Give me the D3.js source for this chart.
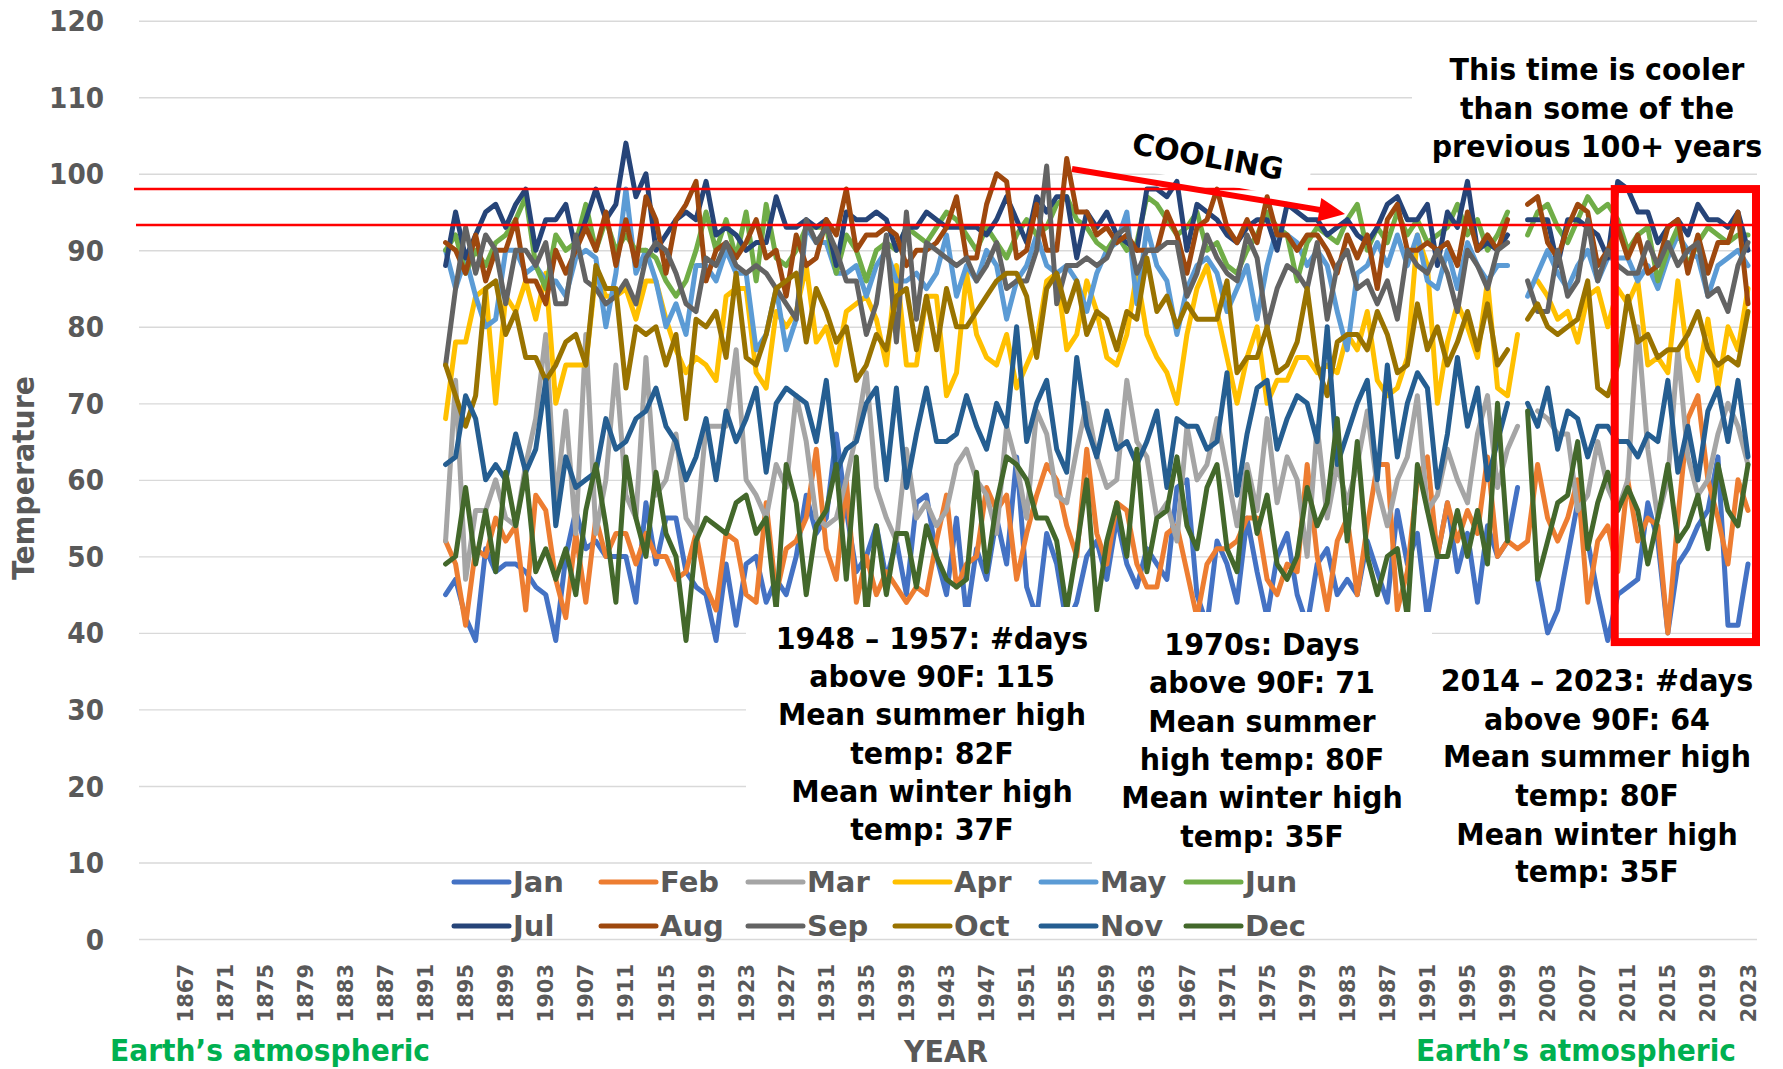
<!DOCTYPE html>
<html>
<head>
<meta charset="utf-8">
<script src="https://cdn.jsdelivr.net/npm/d3@7"></script>
<style>
  body { margin: 0; background: #fff; }
  svg { display: block; }
  text { font-family: "DejaVu Sans", Verdana, sans-serif; font-weight: bold; }
</style>
</head>
<body>
<svg id="chart" width="1783" height="1069"></svg>
<script>
// categories on the axis, and the years that carry data
const years = d3.range(1863, 2024);
const dataYears = d3.range(1893, 2024);
const yTicks = d3.range(0, 121, 10);
const yearLabels = years.filter(y => y >= 1867 && (y - 1867) % 4 === 0);

// monthly highs, 1893 .. 2023 (10 per row)
const jan = [45,47,42,39,51,48,49,49,48,46, 45,39,50,56,51,52,50,50,50,44, 57,49,55,55,48,46,45,39,49,41,
  49,50,44,47,45,50,58,53,55,66, 56,48,50,54,47,52,45,57,58,50, 45,55,42,51,47,55,49,63,46,42,
  53,49,41,44,50,52,47,55,49,46, 51,49,47,59,60,45,41,52,49,44, 55,48,42,50,53,45,41,49,51,45,
  47,45,52,48,44,56,49,53,42,50, 57,48,53,44,54,50,52,59,null,47, 40,43,50,57,52,45,39,45,46,47,
  57,52,40,49,51,54,56,63,41,41, 49];
const feb = [52,49,41,51,50,55,52,54,43,58, 56,47,42,53,44,55,50,53,53,49, 53,50,50,47,48,53,46,43,53,52,
  45,44,57,45,51,52,55,64,51,47, 60,44,50,45,48,46,44,46,45,52, 58,46,49,50,59,56,58,47,53,58,
  62,60,54,50,64,53,49,57,56,49, 46,46,53,54,48,42,49,51,51,52, 55,55,47,45,49,48,62,50,43,52,
  55,45,54,62,62,43,48,60,63,50, 57,52,56,53,63,50,52,51,52,62, 55,52,55,60,44,52,54,48,60,52,
  55,54,40,55,68,71,60,55,49,60, 56];
const mar = [52,73,47,56,56,60,55,54,62,68, 79,57,69,53,79,53,60,75,58,55, 76,58,60,66,55,53,67,67,67,77,
  60,58,55,62,59,71,65,55,54,55, 60,66,74,59,55,52,64,55,57,54, 56,62,64,60,58,53,67,62,55,69,
  66,58,57,64,70,63,59,60,73,65, 63,55,57,52,67,60,62,68,61,54, 62,56,68,57,63,60,50,67,55,62,
  57,62,69,59,54,60,63,71,56,58, 64,60,57,66,71,59,64,67,null,69, 68,66,66,56,58,65,59,56,60,80,
  64,55,60,77,63,58,60,66,70,67, 62];
const apr = [68,78,78,84,85,70,84,82,86,81, 87,70,75,75,75,87,84,84,85,81, 86,86,81,77,74,76,75,73,84,85,
  85,74,72,82,80,82,88,78,80,75, 82,83,84,81,75,88,75,75,84,84, 71,74,87,79,76,75,79,72,75,78,
  86,87,77,79,86,82,76,75,79,87, 79,76,74,70,79,85,88,82,76,70, 76,80,70,73,73,76,76,74,75,74,
  79,77,82,73,71,72,76,92,88,70, 78,83,80,76,86,72,71,79,null,86, 84,81,82,78,84,85,80,85,83,86,
  75,76,74,86,76,73,81,72,80,77, 85];
const may = [90,85,89,84,80,81,90,90,87,88, 86,86,84,89,90,89,80,87,98,87, 90,86,80,83,79,88,88,86,90,87,
  87,77,79,85,77,81,93,91,91,87, 87,88,84,88,90,86,86,87,85,87, 92,84,88,86,90,88,81,86,88,92,
  88,87,88,86,82,87,90,91,95,83, 93,88,86,79,85,88,89,87,82,85, 88,81,88,93,92,91,88,90,88,82,
  77,87,88,91,88,92,88,92,86,85, 90,85,91,88,86,88,88,null,84,87, 90,87,85,88,90,86,89,89,89,86,
  88,85,89,92,90,89,84,88,89,90, 88];
const jun = [90,92,87,90,88,91,92,94,97,88, 85,92,90,91,96,90,94,90,92,90, 90,89,86,84,86,90,95,90,94,89,
  95,86,96,89,88,90,93,93,93,87, 92,90,86,90,91,90,93,92,91,93, 95,94,92,90,93,91,89,92,94,92,
  93,96,97,94,93,91,90,92,90,91, 97,96,94,92,93,95,90,91,88,87, 90,92,95,93,92,86,91,93,92,91,
  94,96,90,93,91,95,92,94,91,92, 93,96,92,94,90,92,95,null,92,95, 96,93,91,94,97,95,96,94,90,92,
  93,86,90,93,88,91,93,92,91,92, 92];
const jul = [88,95,89,92,95,96,93,96,98,90, 94,94,96,90,94,98,94,96,104,97, 100,90,92,94,95,94,99,92,93,92,
  90,91,91,97,93,93,94,93,94,88, 95,94,94,95,94,90,93,93,95,94, 93,93,93,93,92,94,97,94,91,97,
  95,97,97,89,95,93,95,92,91,90, 98,98,97,99,90,96,95,94,92,91, 93,94,94,90,96,95,94,94,92,93,
  94,92,91,93,96,97,94,94,96,88, 95,93,99,90,91,90,92,null,94,94, 94,88,94,94,93,92,89,99,98,95,
  95,91,93,94,92,96,94,94,93,95, 90];
const aug = [91,90,87,92,86,90,90,94,86,86, 83,90,87,90,93,90,95,88,94,88, 97,94,87,94,96,99,86,90,91,89,
  91,94,89,90,84,92,88,89,94,92, 98,90,92,92,93,92,88,90,90,91, 93,97,89,89,96,100,99,89,90,96,
  90,90,102,95,95,92,93,91,92,90, 90,90,95,92,87,93,94,98,93,91, 94,91,97,92,92,90,92,92,90,87,
  92,89,92,85,94,96,90,90,91,90, 91,88,95,90,92,90,94,null,96,97, 91,89,93,96,95,88,90,93,89,92,
  87,88,93,94,87,92,87,91,91,95, 83];
const sep = [75,85,93,87,92,90,83,90,90,88, 91,83,83,92,86,85,83,84,86,83, 89,91,90,87,83,82,89,88,91,88,
  87,88,87,85,83,81,94,91,93,90, 86,86,79,83,92,78,95,81,91,90, 89,88,89,86,88,91,85,86,86,90,
  101,83,88,88,89,88,89,92,93,87, 90,90,91,91,84,87,92,89,87,86, 92,89,80,85,88,87,85,91,81,88,
  90,85,86,83,86,81,90,88,87,90, 87,82,90,88,85,90,91,null,86,82, 82,90,84,86,94,86,90,88,87,87,
  91,88,91,88,90,91,84,85,82,88, 91];
const oct = [75,71,67,71,85,86,79,82,76,76, 73,75,78,79,75,88,85,85,72,80, 79,80,75,79,68,81,80,82,76,87,
  76,75,79,85,86,87,78,85,82,78, 80,73,75,79,77,84,85,77,84,77, 85,80,80,82,84,86,87,87,84,76,
  85,87,82,86,79,82,81,77,82,81, 89,82,84,80,83,81,81,81,86,74, 76,76,80,74,75,78,85,75,71,78,
  79,79,77,82,79,74,75,83,77,80, 75,78,82,77,83,75,77,null,81,83, 80,79,80,81,86,72,71,75,84,78,
  79,76,77,77,79,82,77,75,76,75, 82];
const nov = [62,63,71,68,60,62,60,66,61,64, 73,54,63,59,60,61,68,64,65,68, 69,72,67,65,60,63,68,60,69,65,
  68,72,61,70,72,71,70,65,73,61, 64,65,70,72,60,72,59,66,72,65, 65,66,71,67,64,70,67,80,65,70,
  73,64,61,76,67,63,69,64,65,62, 65,69,59,68,67,67,64,65,74,58, 66,72,73,64,68,71,70,65,80,62,
  66,70,73,60,75,63,70,74,72,59, 66,76,67,72,60,65,70,null,70,67, 72,64,69,68,63,67,67,65,65,63,
  66,65,73,61,67,60,69,72,65,73, 63];
const dec = [49,50,59,49,56,48,61,54,61,48, 51,47,51,45,56,62,54,44,63,55, 50,61,53,50,39,52,55,54,53,57,
  58,53,55,43,62,57,45,54,56,62, 47,63,42,54,45,53,53,46,54,50, 47,46,47,61,48,57,63,62,60,55,
  55,52,43,51,60,43,52,57,50,64, 48,55,56,63,54,51,59,62,51,48, 61,53,58,49,47,50,59,54,57,68,
  52,65,50,45,50,51,42,62,56,50, 50,56,50,56,49,70,52,null,69,47, 52,57,58,65,51,57,61,56,59,56,
  49,55,62,52,54,58,51,62,56,54, 62];

const monthNames = ["Jan", "Feb", "Mar", "Apr", "May", "Jun", "Jul", "Aug", "Sep", "Oct", "Nov", "Dec"];
const monthValues = [jan, feb, mar, apr, may, jun, jul, aug, sep, oct, nov, dec];
const monthColors = ["#4472C4", "#ED7D31", "#A5A5A5", "#FFC000", "#5B9BD5", "#70AD47",
                     "#264478", "#9E480E", "#636363", "#997300", "#255E91", "#43682B"];

// reference lines and highlighted period
const refHighs = [98, 93.3];
const boxYears = [2010, 2023];
const boxRange = [38.8, 98];

const notes = [
  {x: 932,  ys: [638, 676, 714, 753, 791, 829],
   lines: ["1948 \u2013 1957: #days", "above 90F: 115", "Mean summer high", "temp: 82F", "Mean winter high", "temp: 37F"]},
  {x: 1262, ys: [644, 682, 721, 759, 797, 836],
   lines: ["1970s: Days", "above 90F: 71", "Mean summer", "high temp: 80F", "Mean winter high", "temp: 35F"]},
  {x: 1597, ys: [680, 719, 756, 795, 834, 871],
   lines: ["2014 \u2013 2023: #days", "above 90F: 64", "Mean summer high", "temp: 80F", "Mean winter high", "temp: 35F"]},
  {x: 1597, ys: [69, 108, 146],
   lines: ["This time is cooler", "than some of the", "previous 100+ years"]}
];

const left = 139, right = 1757;
const svg = d3.select("#chart");

const x = d3.scaleBand().domain(years).range([140, 1753]);
const cx = yr => x(yr) + x.bandwidth() / 2;
const y = d3.scaleLinear().domain([0, 120]).range([939, 20.7]);

function squeeze(sel, k) {
  sel.each(function() {
    const len = this.getComputedTextLength();
    d3.select(this).attr("textLength", len * k).attr("lengthAdjust", "spacingAndGlyphs");
  });
}

// y axis with gridlines
const yAxis = svg.append("g")
  .attr("transform", `translate(${left},0)`)
  .call(d3.axisLeft(y).tickValues(yTicks).tickSize(-(right - left)).tickPadding(35));
yAxis.select(".domain").remove();
yAxis.selectAll(".tick line").attr("stroke", "#d9d9d9").attr("stroke-width", 1.4);
yAxis.selectAll(".tick text")
  .attr("fill", "#595959").attr("font-size", 28).attr("font-family", null)
  .attr("dy", "0.36em");
squeeze(yAxis.selectAll(".tick text"), 0.94);

// x axis: vertical year labels
const xAxis = svg.append("g")
  .attr("transform", "translate(0,939)")
  .call(d3.axisBottom(x).tickValues(yearLabels).tickSize(0));
xAxis.select(".domain").remove();
xAxis.selectAll(".tick text")
  .attr("fill", "#595959").attr("font-size", 21).attr("font-family", null)
  .attr("transform", "rotate(-90)")
  .attr("text-anchor", "end")
  .attr("x", -25).attr("y", 0).attr("dy", "0.36em");

// series
const line = d3.line()
  .defined(d => d.v != null)
  .x(d => cx(d.yr))
  .y(d => y(d.v));

monthValues.forEach((vals, m) => {
  if (vals.length !== dataYears.length) console.error(monthNames[m], vals.length);
  const pts = dataYears.map((yr, i) => ({yr, v: vals[i] === undefined ? null : vals[i]}));
  svg.append("path")
    .datum(pts)
    .attr("d", line)
    .attr("fill", "none")
    .attr("stroke", monthColors[m])
    .attr("stroke-width", 5)
    .attr("stroke-linejoin", "round")
    .attr("stroke-linecap", "round");
});

// red reference lines
svg.append("line").attr("x1", 134).attr("x2", cx(boxYears[0]) - 4)
  .attr("y1", y(refHighs[0])).attr("y2", y(refHighs[0]))
  .attr("stroke", "#ff0000").attr("stroke-width", 2.6);
svg.append("line").attr("x1", 136).attr("x2", 1753)
  .attr("y1", y(refHighs[1])).attr("y2", y(refHighs[1]))
  .attr("stroke", "#ff0000").attr("stroke-width", 2.6);

// red box around the last years
svg.append("rect")
  .attr("x", cx(boxYears[0]) - 3).attr("y", y(boxRange[1]))
  .attr("width", 1756 - (cx(boxYears[0]) - 3))
  .attr("height", y(boxRange[0]) - y(boxRange[1]))
  .attr("fill", "none").attr("stroke", "#ff0000").attr("stroke-width", 8);

// white text boxes
const boxes = [
  [746, 607, 346, 245],
  [1092, 612, 340, 254],
  [1432, 647, 351, 253],
  [1412, 40, 371, 125]
];
svg.append("g").selectAll("rect").data(boxes).join("rect")
  .attr("x", d => d[0]).attr("y", d => d[1]).attr("width", d => d[2]).attr("height", d => d[3])
  .attr("fill", "#fff");

// cooling label and arrow
const cool = svg.append("g").attr("transform", "translate(1208,156) rotate(10)");
cool.append("rect").attr("x", -128).attr("y", -34).attr("width", 232).attr("height", 60).attr("fill", "#fff");
cool.append("text").attr("text-anchor", "middle").attr("y", 11)
  .attr("font-size", 30).attr("fill", "#000").text("COOLING");

const a0 = [1072, 169], a1 = [1345, 214];
const ang = Math.atan2(a1[1] - a0[1], a1[0] - a0[0]);
const headLen = 26, headW = 12;
const base = [a1[0] - headLen * Math.cos(ang), a1[1] - headLen * Math.sin(ang)];
svg.append("line").attr("x1", a0[0]).attr("y1", a0[1]).attr("x2", base[0] + 2 * Math.cos(ang)).attr("y2", base[1] + 2 * Math.sin(ang))
  .attr("stroke", "#ff0000").attr("stroke-width", 6);
svg.append("path")
  .attr("d", d3.line()([
    a1,
    [base[0] + headW * Math.sin(ang), base[1] - headW * Math.cos(ang)],
    [base[0] - headW * Math.sin(ang), base[1] + headW * Math.cos(ang)]
  ]) + "Z")
  .attr("fill", "#ff0000");

// annotation texts
notes.forEach(n => {
  const t = svg.append("g").selectAll("text").data(n.lines).join("text")
    .attr("x", n.x).attr("y", (d, i) => n.ys[i] + 11)
    .attr("text-anchor", "middle")
    .attr("font-size", 31).attr("fill", "#000")
    .text(d => d);
  squeeze(t, 0.92);
});

// legend
const legX = [454, 601, 748, 895, 1041, 1186];
const legY = [882, 926];
const leg = svg.append("g").selectAll("g").data(monthNames).join("g")
  .attr("transform", (d, i) => `translate(${legX[i % 6]},${legY[Math.floor(i / 6)]})`);
leg.append("line").attr("x1", 0).attr("x2", 55)
  .attr("stroke", (d, i) => monthColors[i]).attr("stroke-width", 5).attr("stroke-linecap", "round");
leg.append("text").attr("x", 59).attr("dy", "0.36em")
  .attr("font-size", 29).attr("fill", "#595959").text(d => d);

// axis titles
svg.append("text")
  .attr("transform", "translate(23,478) rotate(-90)")
  .attr("text-anchor", "middle").attr("dy", "0.36em")
  .attr("font-size", 30).attr("fill", "#595959")
  .attr("textLength", 204).attr("lengthAdjust", "spacingAndGlyphs")
  .text("Temperature");
svg.append("text")
  .attr("x", 946).attr("y", 1051).attr("dy", "0.36em")
  .attr("text-anchor", "middle")
  .attr("font-size", 30).attr("fill", "#595959")
  .attr("textLength", 84).attr("lengthAdjust", "spacingAndGlyphs")
  .text("YEAR");
svg.append("g").selectAll("text").data([110, 1416]).join("text")
  .attr("x", d => d).attr("y", 1050).attr("dy", "0.36em")
  .attr("font-size", 30).attr("fill", "#00B050")
  .attr("textLength", 320).attr("lengthAdjust", "spacingAndGlyphs")
  .text("Earth\u2019s atmospheric");
</script>
</body>
</html>
